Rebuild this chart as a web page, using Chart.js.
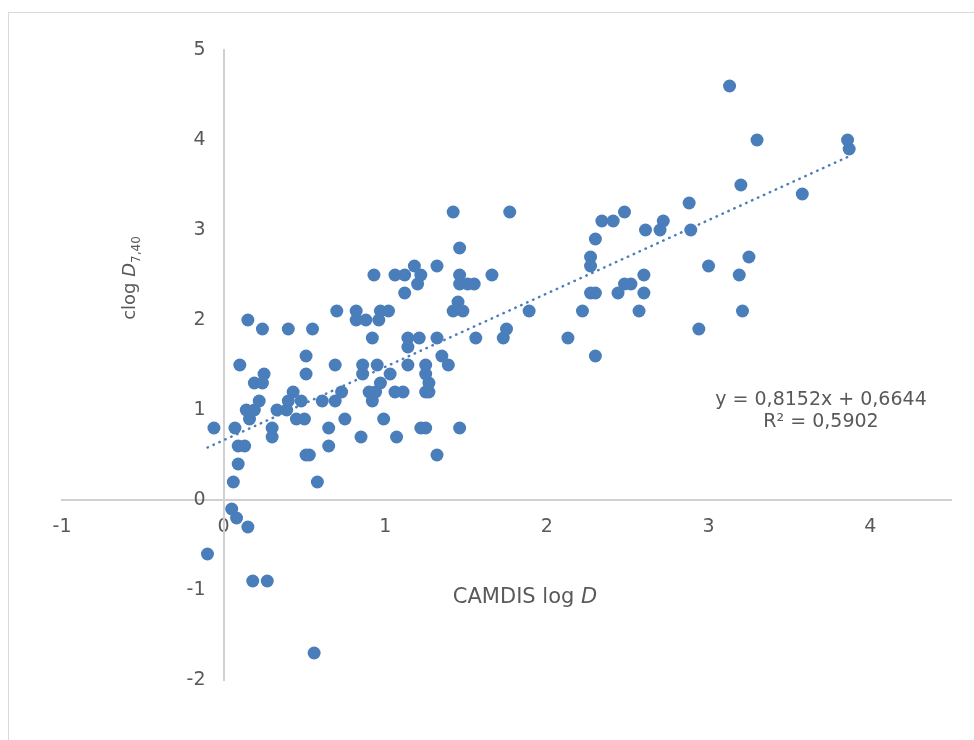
<!DOCTYPE html>
<html>
<head>
<meta charset="utf-8">
<title>clog D vs CAMDIS log D</title>
<script src="https://cdn.jsdelivr.net/npm/chart.js@4.4.0/dist/chart.umd.min.js"></script>
<style>
    html, body { margin: 0; padding: 0; background: #fff; overflow: hidden; }
    #wrap { position: relative; width: 974px; height: 740px; }
    #frame { position: absolute; left: 8px; top: 12px; width: 1000px; height: 800px; border: 1px solid #d9d9d9; }
    #grafico { position: absolute; left: 0; top: 0; }
</style>
</head>
<body>
<div id="wrap">
    <div id="frame"></div>
    <canvas id="grafico" width="974" height="740"></canvas>
</div>
<script>
    // CAMDIS log D (x) and clog D7,40 (y)
    const camdisLogD = [
        3.13, 3.30, 3.86, 3.87, 3.20, 3.58, 2.88, 3.00, 3.25, 3.19, 3.21, 2.94,
        2.34, 2.41, 2.48, 2.61, 2.70, 2.72, 2.89, 2.30, 2.27, 2.27, 2.60, 2.48,
        2.52, 2.27, 2.30, 2.44, 2.60, 2.22, 2.57, 2.13, 2.30,
        1.42, 1.77, 1.46, 1.18, 1.32, 1.12, 1.22, 1.46, 1.66, 1.20, 1.12, 1.46,
        1.51, 1.55, 1.45, 1.42, 1.48, 1.89, 1.14, 1.21, 1.32, 1.14, 1.56, 1.75,
        1.73, 1.35, 1.39, 1.14, 1.25, 1.25, 1.27, 1.25, 1.27, 1.11, 1.22, 1.25, 1.46,
        0.93, 1.06, 0.70, 0.82, 0.97, 1.02, 0.82, 0.88, 0.96, 0.92, 0.69, 0.86,
        0.95, 0.86, 1.03, 0.97, 0.73, 0.90, 0.94, 1.06, 0.92, 0.69, 0.75, 0.99,
        0.15, 0.24, 0.40, 0.55, 0.10, 0.51, 0.51, 0.25, 0.19, 0.24, 0.43, 0.22,
        0.40, 0.48, 0.61, 0.14, 0.19, 0.33, 0.39, 0.16, 0.45, 0.50, -0.06, 0.07,
        0.65, 0.30, 0.30, 0.09, 0.13, 0.09, 0.06, 0.51, 0.53, 0.58, 0.65, 0.05,
        0.08, 0.15, -0.10, 0.18, 0.27, 0.56, 0.85, 1.07, 1.32
    ]
    const clogD740 = [
        4.6, 4.0, 4.0, 3.9, 3.5, 3.4, 3.3, 2.6, 2.7, 2.5, 2.1, 1.9,
        3.1, 3.1, 3.2, 3.0, 3.0, 3.1, 3.0, 2.9, 2.7, 2.6, 2.5, 2.4,
        2.4, 2.3, 2.3, 2.3, 2.3, 2.1, 2.1, 1.8, 1.6,
        3.2, 3.2, 2.8, 2.6, 2.6, 2.5, 2.5, 2.5, 2.5, 2.4, 2.3, 2.4,
        2.4, 2.4, 2.2, 2.1, 2.1, 2.1, 1.8, 1.8, 1.8, 1.7, 1.8, 1.9,
        1.8, 1.6, 1.5, 1.5, 1.5, 1.4, 1.3, 1.2, 1.2, 1.2, 0.8, 0.8, 0.8,
        2.5, 2.5, 2.1, 2.1, 2.1, 2.1, 2.0, 2.0, 2.0, 1.8, 1.5, 1.5,
        1.5, 1.4, 1.4, 1.3, 1.2, 1.2, 1.2, 1.2, 1.1, 1.1, 0.9, 0.9,
        2.0, 1.9, 1.9, 1.9, 1.5, 1.6, 1.4, 1.4, 1.3, 1.3, 1.2, 1.1,
        1.1, 1.1, 1.1, 1.0, 1.0, 1.0, 1.0, 0.9, 0.9, 0.9, 0.8, 0.8,
        0.8, 0.8, 0.7, 0.6, 0.6, 0.4, 0.2, 0.5, 0.5, 0.2, 0.6, -0.1,
        -0.2, -0.3, -0.6, -0.9, -0.9, -1.7, 0.7, 0.7, 0.5
    ]

    // linear trendline shown in the picture
    const slope = 0.8152
    const intercept = 0.6644
    const eqLine1 = 'y = 0,8152x + 0,6644'
    const eqLine2 = 'R² = 0,5902'

    const xTicks = [-1, 0, 1, 2, 3, 4]
    const yTicks = [-2, -1, 0, 1, 2, 3, 4, 5]

    const cor = '#4a7ebb'
    const cinza = '#595959'
    const fonte = '"DejaVu Sans", Verdana, sans-serif'

    let pontos = camdisLogD.map((x, i) => ({ x: x, y: clogD740[i] }))
    let xMin = Math.min(...camdisLogD)
    let xMax = Math.max(...camdisLogD)
    let tendencia = [xMin, xMax].map(x => ({ x: x, y: slope * x + intercept }))

    function desenhaTrechos(c, trechos, x, y) {
        let total = 0
        trechos.forEach(t => { c.font = t.font; total += c.measureText(t.text).width })
        let cx = x - total / 2
        trechos.forEach(t => {
            c.font = t.font
            c.fillText(t.text, cx, y + (t.dy || 0))
            cx += c.measureText(t.text).width
        })
    }

    const textos = {
        id: 'textos',
        afterDraw(chart) {
            const c = chart.ctx
            const area = chart.chartArea
            c.save()
            c.fillStyle = cinza
            c.textAlign = 'left'
            c.textBaseline = 'alphabetic'

            // x axis title
            desenhaTrechos(c, [
                { text: 'CAMDIS log ', font: '21px ' + fonte },
                { text: 'D', font: 'italic 21px ' + fonte }
            ], 525, area.bottom - 77)

            // y axis title, rotated
            c.translate(135, 278)
            c.rotate(-Math.PI / 2)
            desenhaTrechos(c, [
                { text: 'clog ', font: '18px ' + fonte },
                { text: 'D', font: 'italic 18px ' + fonte },
                { text: '7,40', font: '12px ' + fonte, dy: 5 }
            ], 0, 0)
            c.restore()

            // trendline label
            c.save()
            c.fillStyle = cinza
            c.textAlign = 'center'
            c.font = '19px ' + fonte
            c.fillText(eqLine1, 821, 405)
            c.fillText(eqLine2, 821, 427)
            c.restore()
        }
    }

    var ctx = document.getElementById('grafico').getContext('2d')

    var grafico = new Chart(ctx, {
        type: 'scatter',
        data: {
            datasets: [{
                data: pontos,
                backgroundColor: cor,
                borderWidth: 0,
                pointRadius: 6.5,
                pointHoverRadius: 6.5
            }, {
                data: tendencia,
                showLine: true,
                borderColor: cor,
                borderWidth: 2.5,
                borderDash: [0.5, 6],
                borderCapStyle: 'round',
                pointRadius: 0,
                pointHoverRadius: 0,
                fill: false
            }]
        },
        options: {
            responsive: false,
            animation: false,
            events: [],
            layout: { padding: { left: 62, right: 23, top: 50, bottom: 60 } },
            plugins: {
                legend: { display: false },
                tooltip: { enabled: false }
            },
            scales: {
                x: {
                    type: 'linear',
                    position: { y: 0 },
                    min: -1,
                    max: 4.5,
                    afterBuildTicks: scale => { scale.ticks = xTicks.map(v => ({ value: v })) },
                    grid: { display: false, drawTicks: false },
                    border: { display: true, color: '#d0d0d0', width: 2 },
                    ticks: {
                        color: cinza,
                        font: { family: fonte, size: 19 },
                        padding: 16,
                        maxRotation: 0
                    }
                },
                y: {
                    type: 'linear',
                    position: { x: 0 },
                    min: -2,
                    max: 5,
                    afterBuildTicks: scale => { scale.ticks = yTicks.map(v => ({ value: v })) },
                    grid: { display: false, drawTicks: false },
                    border: { display: true, color: '#d0d0d0', width: 2 },
                    ticks: {
                        color: cinza,
                        font: { family: fonte, size: 19 },
                        // padding is not applied to an axis placed at a value, so pad with spaces
                        callback: v => v + '   '
                    }
                }
            }
        },
        plugins: [textos]
    })
</script>
</body>
</html>
